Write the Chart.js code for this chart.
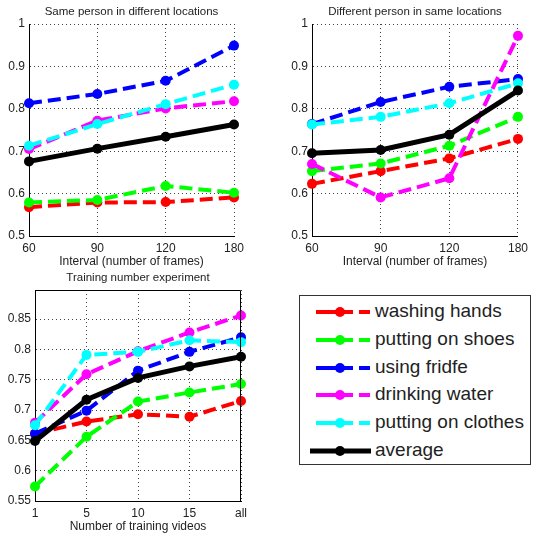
<!DOCTYPE html>
<html>
<head>
<meta charset="utf-8">
<script src="https://cdn.jsdelivr.net/npm/chart.js@4/dist/chart.umd.min.js"></script>
<style>
  body { margin: 0; background: #fff; width: 533px; height: 535px; position: relative; overflow: hidden; font-family: 'Liberation Sans', Arial, sans-serif; }
  canvas { position: absolute; }
  #legend { position: absolute; left: 299px; top: 295px; width: 232px; height: 170px; box-sizing: border-box; border: 1px solid #333; background: #fff; }
  .row { position: absolute; left: 0; height: 24px; }
  .row svg { position: absolute; left: 10px; top: 0; }
  .row span { position: absolute; left: 75px; top: 0; font-size: 19px; color: #222; white-space: nowrap; line-height: 22px; }
</style>
</head>
<body>
<canvas id="chart1" width="263" height="270" style="left:0;top:0"></canvas>
<canvas id="chart2" width="250" height="270" style="left:283px;top:0"></canvas>
<canvas id="chart3" width="256" height="269" style="left:0;top:266px"></canvas>
<div id="legend"></div>
<script>
'use strict';

const seriesNames = ['washing hands', 'putting on shoes', 'using fridfe', 'drinking water', 'putting on clothes', 'average'];
const seriesColors = ['#ff0000', '#00ff00', '#0000ff', '#ff00ff', '#00ffff', '#000000'];

const intervalLabels = ['60', '90', '120', '180'];
const trainingLabels = ['1', '5', '10', '15', 'all'];

// Same person in different locations
const samePerson = [
  [0.568, 0.579, 0.580, 0.591],
  [0.579, 0.585, 0.618, 0.602],
  [0.813, 0.835, 0.866, 0.949],
  [0.705, 0.772, 0.801, 0.818],
  [0.713, 0.764, 0.811, 0.857],
  [0.676, 0.706, 0.734, 0.763]
];

// Different person in same locations
const differentPerson = [
  [0.623, 0.653, 0.683, 0.729],
  [0.653, 0.671, 0.713, 0.781],
  [0.764, 0.816, 0.852, 0.870],
  [0.670, 0.591, 0.636, 0.972],
  [0.763, 0.781, 0.813, 0.860],
  [0.695, 0.703, 0.739, 0.843]
];

// Training number experiment
const trainingNumber = [
  [0.661, 0.681, 0.693, 0.689, 0.715],
  [0.574, 0.656, 0.714, 0.729, 0.743],
  [0.661, 0.699, 0.765, 0.796, 0.820],
  [0.679, 0.759, 0.797, 0.828, 0.856],
  [0.675, 0.791, 0.796, 0.815, 0.812],
  [0.649, 0.717, 0.753, 0.772, 0.788]
];

const fontFamily = "'Liberation Sans', Arial, sans-serif";
const textColor = '#222';

function makeDatasets(values) {
  return values.map(function(data, i) {
    const isAverage = i === seriesNames.length - 1;
    return {
      label: seriesNames[i],
      data: data,
      borderColor: seriesColors[i],
      backgroundColor: seriesColors[i],
      pointBackgroundColor: seriesColors[i],
      pointBorderWidth: 0,
      pointRadius: 5,
      borderWidth: isAverage ? 5 : 4,
      borderDash: isAverage ? [] : [13, 6],
      tension: 0,
      clip: false,
      order: seriesNames.length - i
    };
  });
}

const boxPlugin = {
  id: 'boxFrame',
  afterDraw(chart, args, opts) {
    if (!opts.show) return;
    const a = chart.chartArea;
    const ctx = chart.ctx;
    ctx.save();
    ctx.strokeStyle = '#000';
    ctx.lineWidth = 1;
    ctx.beginPath();
    ctx.moveTo(Math.round(a.left), Math.round(a.top) + 0.5);
    ctx.lineTo(Math.round(a.right) - 0.5, Math.round(a.top) + 0.5);
    ctx.lineTo(Math.round(a.right) - 0.5, Math.round(a.bottom));
    ctx.stroke();
    ctx.restore();
  }
};

function tickText(value) {
  return String(Number(value.toFixed(2)));
}

function makeChart(id, title, xTitle, labels, values, yOpts, yWidth, rightPad, box) {
  const ctx = document.getElementById(id).getContext('2d');
  return new Chart(ctx, {
    type: 'line',
    data: { labels: labels, datasets: makeDatasets(values) },
    plugins: [boxPlugin],
    options: {
      responsive: false,
      animation: false,
      devicePixelRatio: 1,
      layout: { padding: { left: 0, right: rightPad, top: 0, bottom: 0 } },
      plugins: {
        legend: { display: false },
        tooltip: { enabled: false },
        boxFrame: { show: box },
        title: {
          display: true,
          text: title,
          fullSize: false,
          color: textColor,
          font: { family: fontFamily, size: 11.5, weight: 'normal', lineHeight: 1.2 },
          padding: { top: 5, bottom: 5.2 }
        }
      },
      scales: {
        x: {
          type: 'category',
          offset: false,
          afterFit: function(scale) { scale.height = 34; },
          grid: { color: '#444', drawTicks: false },
          border: { color: '#000', width: 1, dash: [1, 3] },
          ticks: { color: textColor, font: { family: fontFamily, size: 12 }, padding: 5, maxRotation: 0, autoSkip: false },
          title: {
            display: true,
            text: xTitle,
            color: textColor,
            font: { family: fontFamily, size: 12, lineHeight: 1.2 },
            padding: { top: 0, bottom: 1.5 }
          }
        },
        y: {
          type: 'linear',
          min: yOpts.min,
          max: yOpts.max,
          afterFit: function(scale) { scale.width = yWidth; },
          grid: { color: '#444', drawTicks: false },
          border: { color: '#000', width: 1, dash: [1, 3] },
          ticks: {
            stepSize: yOpts.step,
            includeBounds: false,
            color: textColor,
            font: { family: fontFamily, size: 12 },
            padding: 4,
            callback: tickText
          }
        }
      }
    }
  });
}

makeChart('chart1', 'Same person in different locations', 'Interval (number of frames)',
  intervalLabels, samePerson, { min: 0.5, max: 1, step: 0.1 }, 29, 29, false);
makeChart('chart2', 'Different person in same locations', 'Interval (number of frames)',
  intervalLabels, differentPerson, { min: 0.5, max: 1, step: 0.1 }, 29, 15, false);
makeChart('chart3', 'Training number experiment', 'Number of training videos',
  trainingLabels, trainingNumber, { min: 0.55, max: 0.898, step: 0.05 }, 35, 15, true);

// legend panel
const legend = document.getElementById('legend');
seriesNames.forEach(function(name, i) {
  const isAverage = i === seriesNames.length - 1;
  const row = document.createElement('div');
  row.className = 'row';
  row.style.top = (4 + i * 27.8) + 'px';
  const dash = isAverage ? '' : ' stroke-dasharray="37 6 11"';
  const x1 = isAverage ? 0 : 6;
  row.innerHTML =
    '<svg width="62" height="24"><line x1="' + x1 + '" y1="12" x2="61" y2="12" stroke="' + seriesColors[i] +
    '" stroke-width="' + (isAverage ? 5 : 4) + '"' + dash + '/>' +
    '<circle cx="30" cy="12" r="5" fill="' + seriesColors[i] + '"/></svg>' +
    '<span>' + name + '</span>';
  legend.appendChild(row);
});
</script>
</body>
</html>
